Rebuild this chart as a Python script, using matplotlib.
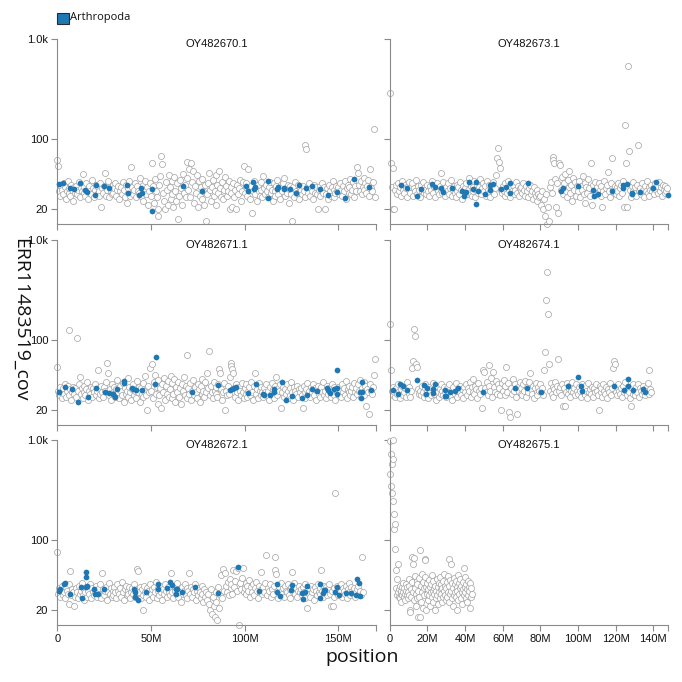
import numpy as np
import matplotlib
matplotlib.use("Agg")
import matplotlib.pyplot as plt
from matplotlib.patches import Rectangle
from matplotlib.ticker import FuncFormatter, FixedLocator, NullLocator


# Palette
GREY_EDGE = "#a9a9a9"
AXIS_GREY = "#8a8a8a"
BLUE = "#1f78b4"
TEXT = "#111111"

LEGEND_LABEL = "Arthropoda"
Y_LABEL = "ERR11483519_cov"
X_LABEL = "position"

# window spacing (Mb) of the coverage tracks
WINDOW_MB = 0.5
WINDOW_MB_SMALL = 0.25

# x limits (Mb) of the two columns and their ticks
LEFT_XMAX = 170
RIGHT_XMAX = 148
LEFT_XTICKS = [0, 50, 100, 150]
RIGHT_XTICKS = [0, 20, 40, 60, 80, 100, 120, 140]
Y_TICKS = [20, 100, 1000]

# ---- OY482670.1 ----
OY482670_COV = [
    62, 54, 30, 27, 34, 31, 28, 36, 33, 25, 30, 38, 29, 32, 27, 35, 31, 24, 33, 29,
    34, 28, 31, 37, 26, 32, 30, 45, 29, 33, 27, 36, 31, 25, 34, 30, 28, 39, 32, 26,
    31, 35, 28, 33, 30, 27, 36, 21, 32, 29, 34, 46, 27, 31, 38, 26, 33, 30, 28, 35,
    29, 32, 36, 27, 31, 34, 25, 30, 33, 28, 37, 31, 26, 35, 23, 29, 32, 38, 27, 53,
    33, 28, 31, 36, 26, 34, 30, 29, 41, 27, 32, 35, 24, 31, 38, 28, 33, 22, 30, 36,
    27, 57, 34, 23, 40, 30, 26, 17, 20, 35, 43, 68, 56, 29, 24, 20, 37, 31, 22, 44,
    33, 25, 38, 28, 21, 42, 30, 24, 36, 16, 27, 39, 32, 22, 45, 29, 35, 26, 41, 59,
    31, 50, 26, 57, 37, 48, 23, 34, 29, 44, 21, 38, 27, 33, 25, 40, 30, 22, 35, 15,
    28, 36, 46, 31, 24, 33, 39, 27, 30, 44, 22, 35, 29, 48, 32, 26, 37, 25, 31, 42,
    34, 27, 30, 38, 20, 29, 33, 21, 36, 26, 31, 20, 35, 28, 32, 39, 24, 30, 37, 54,
    29, 33, 36, 27, 50, 31, 25, 34, 18, 30, 38, 28, 32, 24, 35, 30, 27, 37, 31, 26,
    43, 32, 28, 35, 30, 26, 33, 37, 29, 31, 24, 36, 30, 27, 34, 39, 28, 32, 25, 33,
    30, 36, 41, 27, 32, 29, 35, 23, 31, 34, 28, 15, 33, 26, 37, 30, 29, 35, 25, 32,
    31, 28, 34, 30, 26, 88, 79, 33, 29, 36, 27, 32, 30, 25, 35, 29, 33, 28, 20, 31,
    34, 27, 31, 36, 29, 33, 20, 28, 32, 25, 35, 30, 27, 33, 38, 26, 31, 29, 34, 30,
    33, 28, 36, 31, 27, 34, 30, 38, 25, 32, 35, 29, 33, 40, 28, 31, 37, 26, 34, 30,
    52, 46, 35, 30, 38, 28, 33, 41, 31, 36, 29, 34, 39, 27, 50, 32, 30, 37, 125, 26,
]
OY482670_ARTH_POS = [0.7, 2.8, 6.9, 8.7, 12.3, 14.9, 15.8, 20.3, 20.6, 25.2, 27.7, 37.1, 38.0,
                     43.4, 44.8, 45.0, 50.8, 50.8, 67.0, 77.5, 100.6, 102.0, 104.6, 105.2,
                     105.5, 112.6, 112.6, 117.1, 117.6, 120.8, 120.8, 124.4, 127.2, 129.0,
                     132.9, 136.1, 140.2, 144.3, 149.6, 153.5, 158.5, 166.3]
OY482670_ARTH_COV = [35.2, 36.0, 32.6, 31.9, 36.0, 30.9, 29.7, 27.5, 34.7, 34.0, 32.4, 34.7, 29.1,
                     27.5, 32.2, 28.6, 31.4, 19.1, 33.9, 30.2, 34.0, 30.2, 37.4, 31.6,
                     32.8, 38.0, 25.9, 31.6, 33.3, 32.6, 31.6, 31.4, 29.1, 34.7,
                     32.6, 34.0, 31.6, 27.5, 29.3, 25.5, 39.5, 32.8]

# ---- OY482671.1 ----
OY482671_COV = [
    54, 31, 28, 34, 30, 26, 33, 29, 36, 27, 31, 35, 28, 125, 32, 25, 30, 34, 29, 33,
    27, 105, 31, 36, 43, 29, 33, 26, 30, 35, 28, 32, 38, 25, 31, 29, 34, 27, 33, 30,
    36, 28, 31, 50, 26, 33, 29, 35, 30, 27, 34, 31, 38, 59, 47, 28, 32, 25, 36, 30,
    29, 34, 27, 32, 40, 30, 26, 35, 31, 28, 37, 24, 33, 29, 31, 42, 27, 34, 30, 25,
    32, 36, 28, 31, 26, 39, 30, 34, 24, 33, 29, 37, 27, 31, 44, 28, 20, 35, 30, 53,
    31, 57, 26, 38, 45, 29, 34, 23, 40, 28, 33, 21, 36, 30, 42, 25, 35, 29, 39, 27,
    32, 44, 26, 37, 29, 41, 24, 34, 30, 38, 27, 33, 23, 36, 31, 43, 28, 35, 26, 70,
    33, 29, 37, 25, 31, 40, 28, 34, 30, 26, 36, 32, 24, 35, 29, 41, 31, 27, 38, 30,
    47, 33, 78, 28, 35, 30, 26, 38, 31, 29, 34, 27, 36, 51, 47, 32, 25, 30, 37, 20,
    31, 28, 35, 29, 43, 59, 55, 51, 47, 33, 27, 36, 30, 25, 34, 31, 28, 37, 30, 26,
    33, 29, 36, 27, 31, 34, 28, 38, 30, 25, 35, 47, 29, 32, 26, 37, 31, 28, 34, 30,
    27, 33, 30, 36, 28, 31, 25, 34, 29, 37, 32, 26, 35, 30, 43, 28, 33, 31, 36, 21,
    30, 34, 27, 32, 29, 36, 31, 26, 33, 28, 38, 30, 25, 34, 31, 29, 35, 27, 32, 30,
    33, 28, 21, 35, 30, 26, 32, 37, 29, 31, 27, 34, 30, 36, 28, 33, 25, 31, 35, 29,
    32, 27, 34, 30, 38, 28, 31, 26, 35, 29, 33, 30, 27, 36, 31, 28, 34, 25, 32, 30,
    34, 29, 31, 27, 36, 30, 33, 28, 39, 26, 32, 30, 35, 28, 31, 34, 27, 37, 30, 33,
    29, 36, 31, 40, 27, 33, 30, 38, 28, 35, 22, 32, 30, 18, 36, 31, 29, 34, 45, 64,
]
OY482671_ARTH_POS = [1.1, 3.9, 7.8, 11.0, 16.3, 20.6, 25.6, 27.7, 30.0, 30.9, 31.8, 35.4, 35.7,
                     39.8, 40.2, 42.1, 45.1, 52.2, 52.6, 72.1, 86.0, 92.2, 93.1, 94.5, 95.2,
                     101.6, 106.1, 110.0, 110.3, 113.5, 115.7, 115.7, 119.8, 122.1, 125.1,
                     130.4, 133.1, 136.1, 138.4, 143.8, 144.6, 145.7, 147.8, 149.6, 149.6,
                     149.6, 161.5, 162.0, 162.7, 162.7, 167.7]
OY482671_ARTH_COV = [30.4, 33.9, 32.6, 24.2, 26.9, 32.8, 30.2, 29.7, 29.1, 27.1, 32.2, 38.9, 37.4,
                     33.3, 32.2, 31.6, 31.6, 36.5, 67.6, 30.2, 35.5, 31.4, 32.6, 33.3, 33.9,
                     29.3, 36.5, 29.1, 28.4, 28.2, 32.6, 30.2, 38.3, 24.9, 27.5,
                     26.5, 28.0, 32.6, 30.9, 33.3, 31.6, 29.7, 32.6, 50.0, 33.3,
                     29.1, 30.4, 26.5, 30.2, 38.3, 31.6]

# ---- OY482672.1 ----
OY482672_COV = [
    76, 29, 33, 27, 31, 35, 28, 30, 26, 34, 31, 29, 23, 36, 49, 28, 32, 30, 22, 27,
    33, 30, 26, 35, 29, 31, 37, 28, 25, 32, 30, 34, 27, 31, 29, 36, 26, 33, 30, 28,
    31, 35, 27, 30, 33, 29, 36, 26, 47, 32, 28, 31, 34, 25, 30, 37, 29, 33, 27, 31,
    28, 34, 30, 26, 36, 31, 29, 33, 27, 38, 30, 25, 32, 35, 28, 31, 29, 34, 26, 30,
    33, 29, 36, 27, 31, 51, 49, 30, 34, 26, 32, 20, 28, 35, 30, 27, 33, 31, 25, 36,
    29, 32, 27, 34, 30, 38, 26, 31, 33, 28, 35, 30, 25, 32, 29, 36, 31, 27, 34, 30,
    28, 47, 33, 30, 26, 35, 31, 29, 37, 27, 32, 30, 24, 34, 29, 31, 36, 28, 33, 26,
    31, 47, 29, 34, 27, 32, 30, 36, 25, 31, 28, 33, 30, 26, 35, 29, 24, 32, 27, 30,
    25, 29, 23, 20, 32, 18, 27, 22, 17, 30, 24, 16, 34, 21, 28, 45, 26, 51, 31, 47,
    35, 30, 38, 28, 41, 33, 36, 29, 50, 34, 39, 49, 31, 53, 14, 37, 32, 42, 53, 30,
    33, 37, 29, 35, 31, 40, 27, 34, 30, 36, 28, 33, 38, 31, 26, 35, 30, 48, 32, 29,
    34, 30, 37, 70, 28, 33, 31, 36, 27, 32, 29, 35, 50, 68, 46, 31, 26, 34, 30, 37,
    29, 33, 27, 35, 31, 30, 36, 28, 32, 26, 34, 48, 30, 37, 29, 33, 27, 31, 35, 30,
    32, 28, 34, 30, 26, 36, 31, 21, 33, 29, 27, 35, 30, 32, 25, 34, 31, 28, 36, 30,
    33, 29, 50, 31, 27, 35, 30, 34, 28, 32, 36, 29, 22, 31, 22, 33, 27, 293, 30, 35,
    28, 32, 30, 36, 27, 33, 31, 29, 35, 26, 32, 30, 37, 28, 34, 31, 29, 33, 27, 30,
    32, 35, 29, 31, 28, 68, 30,
]
OY482672_ARTH_POS = [1.1, 1.6, 3.4, 3.9, 6.9, 12.8, 13.2, 15.3, 15.3, 15.3, 15.8, 19.4, 19.9,
                     21.5, 25.1, 41.2, 41.6, 41.6, 43.3, 47.3, 53.5, 53.5, 58.5, 60.2, 61.1,
                     63.3, 63.4, 64.1, 66.8, 73.6, 85.6, 96.3, 107.9, 117.1, 117.1, 118.9,
                     124.6, 125.5, 130.4, 131.3, 132.2, 133.4, 140.2, 140.2, 142.0, 142.5,
                     142.9, 148.2, 149.1, 150.3, 153.9, 156.7, 159.4, 160.1, 161.0, 161.5]
OY482672_ARTH_COV = [30.9, 32.6, 36.0, 37.4, 28.6, 33.9, 26.1, 48.2, 43.0, 33.9, 34.7, 32.6, 29.1,
                     29.1, 32.6, 32.2, 30.4, 26.9, 24.9, 30.2, 36.0, 32.2, 33.3, 38.0, 35.5,
                     28.6, 32.6, 32.2, 30.2, 34.0, 29.3, 53.7, 30.9, 36.0, 30.2, 27.5,
                     31.6, 35.5, 29.7, 25.9, 30.4, 34.7, 36.0, 26.5, 29.7, 31.4,
                     31.6, 30.4, 33.9, 28.2, 29.3, 29.3, 28.2, 40.4, 37.2, 27.5]

# ---- OY482673.1 ----
OY482673_COV = [
    288, 57, 33, 51, 20, 20, 31, 35, 28, 36, 30, 33, 27, 38, 31, 29, 35, 32, 26, 34,
    31, 37, 29, 33, 36, 27, 32, 30, 39, 28, 34, 31, 26, 35, 30, 37, 29, 33, 31, 28,
    35, 30, 27, 34, 31, 38, 29, 33, 26, 32, 36, 30, 28, 34, 31, 46, 29, 37, 32, 27,
    33, 30, 36, 28, 32, 39, 27, 31, 34, 29, 26, 35, 30, 33, 28, 37, 31, 25, 34, 30,
    32, 36, 28, 31, 41, 29, 34, 27, 33, 30, 38, 26, 31, 35, 29, 33, 40, 28, 32, 36,
    30, 34, 27, 38, 31, 29, 35, 26, 33, 30, 37, 28, 32, 44, 64, 81, 59, 51, 31, 29,
    34, 30, 27, 36, 32, 29, 38, 31, 26, 33, 30, 35, 28, 31, 37, 29, 34, 27, 32, 30,
    33, 29, 36, 31, 27, 34, 30, 26, 32, 35, 28, 30, 25, 33, 29, 27, 31, 24, 28, 26,
    27, 22, 30, 20, 25, 17, 28, 14, 21, 15, 33, 37, 29, 66, 62, 58, 40, 21, 36, 18,
    57, 55, 31, 42, 28, 36, 45, 30, 26, 39, 33, 48, 29, 35, 24, 41, 31, 37, 27, 34,
    30, 38, 26, 34, 31, 43, 28, 36, 23, 33, 29, 40, 32, 27, 58, 22, 35, 30, 37, 28,
    33, 29, 36, 31, 27, 34, 21, 30, 38, 28, 32, 35, 47, 30, 26, 36, 65, 31, 29, 34,
    28, 33, 30, 36, 27, 32, 35, 29, 38, 21, 138, 58, 21, 537, 75, 31, 26, 34, 30, 37,
    29, 33, 27, 35, 88, 30, 32, 28, 36, 31, 26, 34, 30, 38, 29, 33, 27, 31, 35, 30,
    32, 28, 36, 31, 34, 29, 37, 30, 33, 27, 35, 31, 29, 34, 30, 32,
]
OY482673_ARTH_POS = [5.8, 9.0, 14.3, 16.6, 22.6, 24.1, 27.1, 28.5, 32.9, 38.2, 39.5, 40.4, 42.1,
                     44.4, 45.7, 45.7, 46.7, 50.6, 53.3, 53.3, 54.7, 59.1, 61.6, 63.9, 63.9,
                     73.3, 90.8, 91.9, 99.8, 108.0, 108.7, 110.5, 117.9, 124.1, 124.1, 126.0,
                     128.8, 128.8, 132.9, 140.0, 141.3, 147.6]
OY482673_ARTH_COV = [34.7, 32.6, 27.1, 31.4, 35.2, 32.8, 32.6, 29.3, 32.6, 30.4, 26.9, 29.3, 37.4,
                     31.4, 37.4, 22.4, 30.2, 28.2, 34.7, 30.9, 35.2, 31.4, 32.8, 36.0, 29.1,
                     36.0, 30.4, 32.2, 34.0, 30.9, 26.9, 28.0, 30.2, 34.7, 32.2, 35.2,
                     29.1, 28.2, 29.7, 32.2, 36.9, 27.5]

# ---- OY482674.1 ----
OY482674_COV = [
    146, 50, 31, 28, 34, 30, 27, 33, 29, 36, 31, 26, 32, 35, 28, 30, 33, 27, 38, 31,
    29, 34, 27, 31, 52, 62, 130, 110, 57, 54, 32, 29, 31, 28, 35, 30, 27, 33, 36, 29,
    31, 26, 34, 30, 28, 33, 37, 29, 31, 25, 35, 30, 27, 32, 29, 36, 31, 28, 34, 30,
    27, 33, 30, 36, 28, 31, 25, 34, 30, 29, 37, 31, 27, 33, 30, 35, 28, 32, 26, 34,
    30, 36, 28, 33, 31, 38, 27, 34, 30, 41, 29, 35, 32, 26, 37, 31, 29, 33, 21, 50,
    48, 33, 30, 38, 28, 35, 56, 31, 42, 27, 48, 34, 30, 39, 29, 36, 33, 28, 20, 37,
    31, 40, 28, 35, 54, 30, 37, 19, 17, 33, 29, 41, 31, 36, 27, 18, 34, 30, 38, 29,
    33, 28, 36, 31, 39, 27, 34, 30, 38, 47, 32, 29, 35, 26, 33, 37, 30, 28, 34, 31,
    36, 30, 33, 28, 50, 75, 249, 479, 183, 57, 31, 37, 29, 34, 27, 32, 38, 30, 35, 65,
    31, 34, 28, 36, 22, 33, 22, 30, 37, 29, 32, 35, 27, 31, 38, 30, 33, 28, 36, 31,
    29, 34, 31, 27, 36, 30, 33, 28, 35, 31, 26, 37, 30, 32, 29, 34, 27, 33, 30, 36,
    31, 28, 20, 35, 30, 33, 27, 36, 31, 29, 34, 26, 32, 30, 37, 28, 33, 52, 62, 57,
    30, 34, 28, 36, 31, 29, 33, 27, 35, 30, 38, 31, 28, 34, 30, 26, 22, 33, 29, 36,
    31, 28, 34, 30, 36, 27, 33, 31, 29, 35, 30, 28, 33, 31, 37, 50, 29, 32, 30,
]
OY482674_ARTH_POS = [1.9, 4.6, 5.5, 7.2, 9.0, 14.3, 18.4, 19.1, 19.6, 22.8, 22.8, 24.1, 29.4,
                     29.4, 30.1, 32.0, 34.7, 36.4, 49.7, 66.5, 73.1, 80.2, 94.5, 100.2, 101.4,
                     102.0, 119.3, 124.4, 126.4, 126.4, 129.0, 134.7, 135.6]
OY482674_ARTH_COV = [31.4, 29.1, 36.6, 34.7, 31.4, 39.8, 35.5, 29.1, 33.3, 32.1, 29.3, 36.0, 31.4,
                     27.5, 27.3, 30.2, 30.9, 33.3, 30.2, 33.1, 33.1, 30.4, 35.0, 42.4, 34.7,
                     30.9, 34.4, 31.9, 40.7, 34.4, 31.9, 32.1, 30.4]

# ---- OY482675.1 (short, finer windows) ----
OY482675_COV = [
    977, 454, 719, 347, 571, 297, 1000, 245, 641, 181, 128, 144, 81, 50, 33, 28, 41, 30, 58, 27,
    32, 26, 35, 29, 31, 24, 34, 28, 30, 37, 27, 33, 29, 25, 36, 31, 28, 34, 26, 30,
    35, 28, 41, 20, 19, 32, 27, 68, 38, 58, 30, 66, 25, 44, 33, 22, 29, 39, 26, 36,
    31, 17, 42, 27, 79, 17, 35, 24, 46, 30, 21, 38, 28, 33, 43, 65, 63, 20, 34, 29,
    37, 25, 32, 40, 28, 34, 22, 36, 30, 45, 27, 31, 24, 39, 29, 33, 20, 35, 26, 31,
    41, 28, 34, 23, 37, 30, 26, 43, 32, 29, 36, 24, 33, 39, 27, 31, 46, 28, 35, 25,
    33, 38, 27, 30, 44, 24, 64, 35, 29, 40, 58, 31, 26, 37, 33, 22, 42, 28, 36, 30,
    27, 39, 20, 34, 31, 45, 25, 37, 29, 33, 41, 26, 35, 30, 23, 38, 32, 28, 52, 34,
    30, 43, 26, 36, 32, 24, 39, 28, 34, 31, 21, 37, 27, 33, 29,
]
OY482675_ARTH_POS = []
OY482675_ARTH_COV = []


def mb_formatter(x, pos):
    return "0" if x == 0 else f"{x:.0f}M"


def cov_formatter(y, pos):
    return "1.0k" if y >= 1000 else f"{y:.0f}"


def style_axes(ax, xmax, xticks, show_x, show_y):
    ax.set_yscale("log")
    ax.set_ylim(14.1, 1000)
    ax.set_xlim(0, xmax)
    ax.yaxis.set_major_locator(FixedLocator(Y_TICKS))
    ax.yaxis.set_minor_locator(NullLocator())
    ax.yaxis.set_major_formatter(FuncFormatter(cov_formatter))
    ax.xaxis.set_major_locator(FixedLocator(xticks))
    ax.xaxis.set_minor_locator(FixedLocator([xmax]))
    ax.xaxis.set_major_formatter(FuncFormatter(mb_formatter))

    for side in ("top", "right"):
        ax.spines[side].set_visible(False)
    for side in ("left", "bottom"):
        ax.spines[side].set_color(AXIS_GREY)
        ax.spines[side].set_linewidth(0.8)

    ax.tick_params(which="both", direction="out", length=4.5, width=0.8,
                   color=AXIS_GREY, labelsize=8, labelcolor=TEXT, pad=2)
    ax.tick_params(axis="x", labelbottom=show_x)
    ax.tick_params(axis="y", labelleft=show_y)
    ax.set_facecolor("none")


def draw_panel(fig, rect, name, cov, step, arth_pos, arth_cov, xmax, xticks, show_x, show_y):
    ax = fig.add_axes(rect)
    pos = np.arange(len(cov)) * step

    ax.scatter(pos, cov, s=19, facecolor="white", edgecolor=GREY_EDGE,
               linewidth=0.55, zorder=2, clip_on=False)
    if arth_pos:
        ax.scatter(arth_pos, arth_cov, s=17, color=BLUE, linewidth=0,
                   zorder=3, clip_on=False)

    style_axes(ax, xmax, xticks, show_x, show_y)
    ax.text(0.5, 0.972, name, transform=ax.transAxes, ha="center", va="center",
            fontsize=8, color=TEXT)
    return ax


def main():
    plt.rcParams.update({
        "font.family": ["Liberation Sans", "DejaVu Sans"],
    })

    fig = plt.figure(figsize=(6.82, 6.82), dpi=100)
    fig.patch.set_facecolor("white")

    left_x, left_w = 57.3 / 682, 318.4 / 682
    right_x, right_w = 389.7 / 682, 278.6 / 682
    height = 185 / 682
    bottoms = [1 - 224 / 682, 1 - 425 / 682, 1 - 625 / 682]

    left_panels = [
        ("OY482670.1", OY482670_COV, WINDOW_MB, OY482670_ARTH_POS, OY482670_ARTH_COV),
        ("OY482671.1", OY482671_COV, WINDOW_MB, OY482671_ARTH_POS, OY482671_ARTH_COV),
        ("OY482672.1", OY482672_COV, WINDOW_MB, OY482672_ARTH_POS, OY482672_ARTH_COV),
    ]
    right_panels = [
        ("OY482673.1", OY482673_COV, WINDOW_MB, OY482673_ARTH_POS, OY482673_ARTH_COV),
        ("OY482674.1", OY482674_COV, WINDOW_MB, OY482674_ARTH_POS, OY482674_ARTH_COV),
        ("OY482675.1", OY482675_COV, WINDOW_MB_SMALL, OY482675_ARTH_POS, OY482675_ARTH_COV),
    ]

    for row, (bottom, lp, rp) in enumerate(zip(bottoms, left_panels, right_panels)):
        last = row == 2
        draw_panel(fig, [left_x, bottom, left_w, height], *lp,
                   LEFT_XMAX, LEFT_XTICKS, last, True)
        draw_panel(fig, [right_x, bottom, right_w, height], *rp,
                   RIGHT_XMAX, RIGHT_XTICKS, last, False)

    # legend
    fig.add_artist(Rectangle((57.5 / 682, 1 - 23.5 / 682), 11 / 682, 11 / 682,
                             transform=fig.transFigure, facecolor=BLUE,
                             edgecolor="#2b2b2b", linewidth=0.8))
    fig.text(70.5 / 682, 1 - 17.5 / 682, LEGEND_LABEL, ha="left", va="center",
             fontsize=8, color=TEXT, family="Open Sans")

    # axis titles
    fig.text(20 / 682, 1 - 320 / 682, Y_LABEL, rotation=-90, ha="center", va="center",
             fontsize=14, color=TEXT, family="Open Sans")
    fig.text(362 / 682, 1 - 657 / 682, X_LABEL, ha="center", va="center",
             fontsize=14, color=TEXT, family="Open Sans")

    fig.savefig("out.png", dpi=100, facecolor="white")
    plt.close(fig)


if __name__ == "__main__":
    main()
